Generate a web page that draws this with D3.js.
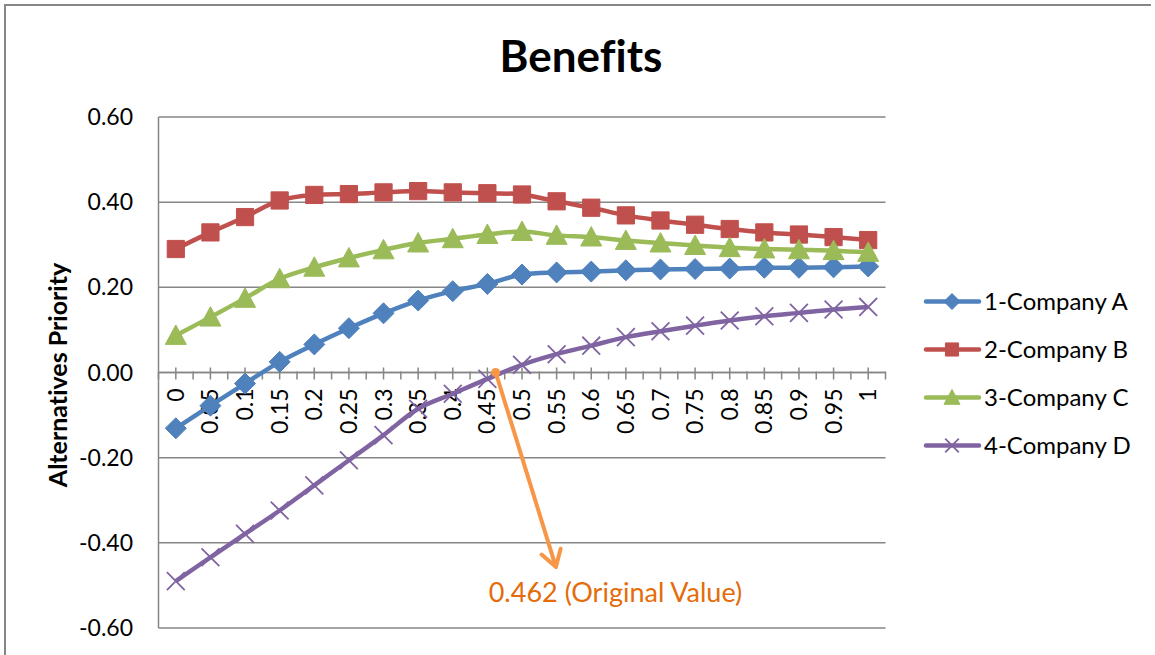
<!DOCTYPE html>
<html>
<head>
<meta charset="utf-8">
<script src="https://cdn.jsdelivr.net/npm/d3@7"></script>
<style>
  body { margin: 0; background: #fff; }
  text { font-family: Lato, "Open Sans", sans-serif; font-variant-ligatures: none; }
</style>
</head>
<body>
<script>
'use strict';

// categories on the x axis (weight of benefits)
const categories = ["0","0.05","0.1","0.15","0.2","0.25","0.3","0.35","0.4","0.45","0.5",
  "0.55","0.6","0.65","0.7","0.75","0.8","0.85","0.9","0.95","1"];

// series values
const companyA = [-0.131, -0.078, -0.026, 0.025, 0.066, 0.104, 0.139, 0.169, 0.191, 0.208, 0.230,
  0.235, 0.237, 0.240, 0.242, 0.243, 0.244, 0.246, 0.246, 0.247, 0.249];
const companyB = [0.290, 0.329, 0.365, 0.404, 0.417, 0.419, 0.423, 0.426, 0.423, 0.421, 0.418,
  0.402, 0.387, 0.369, 0.357, 0.347, 0.337, 0.329, 0.324, 0.318, 0.311];
const companyC = [0.087, 0.130, 0.174, 0.220, 0.247, 0.269, 0.288, 0.304, 0.314, 0.324, 0.331,
  0.322, 0.318, 0.310, 0.304, 0.298, 0.293, 0.290, 0.288, 0.286, 0.282];
const companyD = [-0.490, -0.434, -0.379, -0.324, -0.265, -0.206, -0.147, -0.085, -0.050, -0.015, 0.018,
  0.043, 0.063, 0.083, 0.097, 0.110, 0.122, 0.132, 0.140, 0.148, 0.154];

const seriesNames = ["1-Company A", "2-Company B", "3-Company C", "4-Company D"];
const yTicks = [0.6, 0.4, 0.2, 0, -0.2, -0.4, -0.6];

// annotation: original weight value
const originalValue = 0.462;
const annotationLabel = "0.462 (Original Value)";

const W = 1155, H = 655;
const plot = { left: 158.5, right: 885.5, top: 117, bottom: 628 };

const svg = d3.select('body').append('svg')
  .attr('width', W)
  .attr('height', H);

// outer chart frame (left and top edges visible)
svg.append('path')
  .attr('d', `M5,${H + 2}V5H${W - 4}`)
  .attr('fill', 'none')
  .attr('stroke', '#878787')
  .attr('stroke-width', 2);

// scales
const x = d3.scaleBand().domain(categories).range([plot.left, plot.right]).paddingInner(0).paddingOuter(0);
const xc = (c) => x(c) + x.bandwidth() / 2;
const y = d3.scaleLinear().domain([-0.6, 0.6]).range([plot.bottom, plot.top]);

// horizontal gridlines
svg.append('g')
  .selectAll('line')
  .data(yTicks)
  .enter()
  .append('line')
  .attr('x1', plot.left).attr('x2', plot.right)
  .attr('y1', (d) => y(d)).attr('y2', (d) => y(d))
  .attr('stroke', '#868686')
  .attr('stroke-width', 1.5);

// y axis line
svg.append('line')
  .attr('x1', plot.left).attr('x2', plot.left)
  .attr('y1', plot.top).attr('y2', plot.bottom)
  .attr('stroke', '#868686')
  .attr('stroke-width', 1.5);

// y tick labels (plain hyphen for negatives, like the original)
svg.append('g')
  .selectAll('text')
  .data(yTicks)
  .enter()
  .append('text')
  .attr('x', 133)
  .attr('y', (d) => y(d))
  .attr('dy', '0.35em')
  .attr('text-anchor', 'end')
  .style('font-size', '23px')
  .attr('fill', '#000')
  .text((d) => (d === 0 ? 0 : d).toFixed(2));

// x axis through zero with tick marks at band edges and centres
const y0 = y(0);
const xAxis = svg.append('g');
xAxis.append('line')
  .attr('x1', plot.left).attr('x2', plot.right)
  .attr('y1', y0).attr('y2', y0)
  .attr('stroke', '#868686')
  .attr('stroke-width', 1.5);
const edges = categories.map((c) => x(c)).concat([plot.right]);
xAxis.selectAll('.edge')
  .data(edges)
  .enter()
  .append('line')
  .attr('x1', (d) => d).attr('x2', (d) => d)
  .attr('y1', y0 - 1).attr('y2', y0 + 7)
  .attr('stroke', '#868686')
  .attr('stroke-width', 1.5);
xAxis.selectAll('.centre')
  .data(categories)
  .enter()
  .append('line')
  .attr('x1', xc).attr('x2', xc)
  .attr('y1', y0 - 5).attr('y2', y0 + 7)
  .attr('stroke', '#868686')
  .attr('stroke-width', 1.5);

// series
const series = [
  { name: seriesNames[0], values: companyA, color: '#4F81BD', marker: 'diamond' },
  { name: seriesNames[1], values: companyB, color: '#C0504D', marker: 'square' },
  { name: seriesNames[2], values: companyC, color: '#9BBB59', marker: 'triangle' },
  { name: seriesNames[3], values: companyD, color: '#8064A2', marker: 'cross' }
];

function markerPath(type, s) {
  if (type === 'diamond') return `M0,${-s}L${s},0L0,${s}L${-s},0Z`;
  if (type === 'square') return `M${-s * 0.82},${-s * 0.82}h${s * 1.64}v${s * 1.64}h${-s * 1.64}Z`;
  if (type === 'triangle') return `M0,${-s}L${s},${s * 0.85}L${-s},${s * 0.85}Z`;
  return `M${-s * 0.85},${-s * 0.85}L${s * 0.85},${s * 0.85}M${s * 0.85},${-s * 0.85}L${-s * 0.85},${s * 0.85}`;
}

function drawMarker(g, type, color, s) {
  if (type === 'cross') {
    g.append('path').attr('d', markerPath(type, s))
      .attr('fill', 'none').attr('stroke', color).attr('stroke-width', 1.8);
  } else {
    g.append('path').attr('d', markerPath(type, s))
      .attr('fill', color).attr('stroke', color).attr('stroke-width', 1);
  }
}

const line = d3.line()
  .x((d, i) => xc(categories[i]))
  .y((d) => y(d))
  .curve(d3.curveCatmullRom.alpha(0.5));

// x tick labels, rotated, just under the zero line
svg.append('g')
  .selectAll('text')
  .data(categories)
  .enter()
  .append('text')
  .attr('transform', (d) => `translate(${xc(d)},${y0 + 16})rotate(-90)`)
  .attr('text-anchor', 'end')
  .attr('dy', '0.35em')
  .style('font-size', '23px')
  .attr('fill', '#000')
  .text((d) => d);

series.forEach((s) => {
  const g = svg.append('g');
  g.append('path')
    .datum(s.values)
    .attr('d', line)
    .attr('fill', 'none')
    .attr('stroke', s.color)
    .attr('stroke-width', 4.5)
    .attr('stroke-linejoin', 'round');
  s.values.forEach((v, i) => {
    const m = g.append('g').attr('transform', `translate(${xc(categories[i])},${y(v)})`);
    drawMarker(m, s.marker, s.color, 10.5);
  });
});

// annotation arrow for the original value
const step = x.bandwidth();
const ax0 = xc(categories[0]) + originalValue / 0.05 * step;
const ay0 = y(0);
const ax1 = xc(categories[0]) + 0.549 / 0.05 * step;
const ay1 = y(-0.457);
const ang = Math.atan2(ay1 - ay0, ax1 - ax0);
const hl = 19, ha = 0.55;
svg.append('circle')
  .attr('cx', ax0).attr('cy', ay0).attr('r', 4.5)
  .attr('fill', '#F79646');
svg.append('path')
  .attr('d', `M${ax0},${ay0}L${ax1},${ay1}` +
    `M${ax1 - hl * Math.cos(ang - ha)},${ay1 - hl * Math.sin(ang - ha)}L${ax1},${ay1}` +
    `L${ax1 - hl * Math.cos(ang + ha)},${ay1 - hl * Math.sin(ang + ha)}`)
  .attr('fill', 'none')
  .attr('stroke', '#F79646')
  .attr('stroke-width', 4)
  .attr('stroke-linecap', 'round')
  .attr('stroke-linejoin', 'round');

svg.append('text')
  .attr('x', xc(categories[0]) + 0.635 / 0.05 * step)
  .attr('y', y(-0.516))
  .attr('dy', '0.35em')
  .attr('text-anchor', 'middle')
  .style('font-size', '27px')
  .attr('fill', '#E46C0A')
  .text(annotationLabel);

// title
svg.append('text')
  .attr('x', 581)
  .attr('y', 57)
  .attr('dy', '0.35em')
  .attr('text-anchor', 'middle')
  .style('font-size', '44px')
  .style('font-weight', 'bold')
  .text('Benefits');

// y axis title
svg.append('text')
  .attr('transform', 'translate(58,375)rotate(-90)')
  .attr('text-anchor', 'middle')
  .attr('dy', '0.35em')
  .style('font-size', '25px')
  .style('font-weight', 'bold')
  .text('Alternatives Priority');

// legend
const legend = svg.append('g');
series.forEach((s, i) => {
  const ly = 301.5 + i * 48;
  const g = legend.append('g').attr('transform', `translate(0,${ly})`);
  g.append('line')
    .attr('x1', 926).attr('x2', 979)
    .attr('y1', 0).attr('y2', 0)
    .attr('stroke', s.color)
    .attr('stroke-width', 4.5)
    .attr('stroke-linecap', 'round');
  drawMarker(g.append('g').attr('transform', 'translate(952,0)'), s.marker, s.color, 8);
  g.append('text')
    .attr('x', 984)
    .attr('y', 0)
    .attr('dy', '0.35em')
    .style('font-size', '24px')
    .attr('fill', '#000')
    .text(s.name);
});
</script>
</body>
</html>
